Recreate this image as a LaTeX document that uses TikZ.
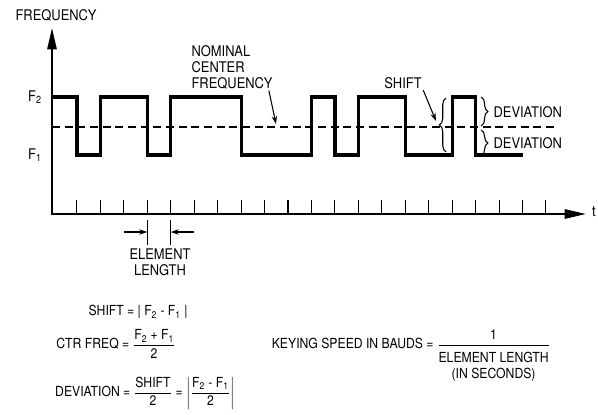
\documentclass[tikz,border=0pt]{standalone}
\usepackage{amsmath}
\usepackage{fontspec}
\setmainfont{TeX Gyre Heros}[FakeStretch=0.88]
\usetikzlibrary{arrows.meta,decorations.pathreplacing}

\begin{document}
\begin{tikzpicture}[x=0.75pt,y=-0.75pt,
  axis/.style={line width=1.4pt},
  signal/.style={line width=2.4pt,line join=miter},
  midline/.style={line width=1.6pt,dash pattern=on 6pt off 3.5pt},
  tick/.style={line width=0.8pt},
  pointer/.style={line width=0.8pt,-{Stealth[length=6pt,width=4pt]}},
  brace/.style={line width=0.8pt,decorate,decoration={brace,amplitude=5pt}},
  formula/.style={font=\fontsize{10.4}{11.5}\selectfont},
  every node/.style={inner sep=1pt,font=\fontsize{11}{12}\selectfont}]

\useasboundingbox (0,0) rectangle (598,414);

% Axes
\draw[axis,{Triangle[length=16pt,width=7pt]}-{Triangle[length=16pt,width=7pt]}]
  (52,28) -- (52,214) -- (586,214);

\node[anchor=west] (freq) at (14,15)
{FREQUENCY};

\node (t) at (594,212)
{t};

\node (f2) at (35,97)
{F\textsubscript{2}};

\node (f1) at (35,155)
{F\textsubscript{1}};

\begin{scope}[xshift=53.5*0.75pt,x=23.45*0.75pt]

% Ticks
\foreach \i in {1,...,21}
{
\draw[tick] (\i,214) -- (\i,200);
}

% Center line
\draw[midline] (-0.06,127) -- (21.43,127);

% Signal
\draw[signal] (-0.06,97) -- (1,97) -- (1,155) -- (2,155) -- (2,97)
  -- (4,97) -- (4,155) -- (5,155) -- (5,97) -- (8,97) -- (8,155)
  -- (11,155) -- (11,97) -- (12,97) -- (12,155) -- (13,155) -- (13,97)
  -- (15,97) -- (15,155) -- (17,155) -- (17,97) -- (18,97) -- (18,155)
  -- (20,155);

% Braces
\draw[brace] (16.74,152) -- (16.74,98);
\draw[brace] (18.24,97) -- (18.24,126);
\draw[brace] (18.24,130) -- (18.24,156);

% Element length
\draw[tick] (4,220) -- (4,245);
\draw[tick] (5,220) -- (5,245);

\coordinate (elemleft) at (4,232);
\coordinate (elemright) at (5,232);

\draw[pointer] (3,232) -- (elemleft);
\draw[pointer] (6,232) -- (elemright);

\end{scope}

\node[align=center] (elem) at (160,262)
{ELEMENT\\LENGTH};

% Labels
\node[anchor=west,align=left] (nominal) at (190,67)
{NOMINAL\\CENTER\\FREQUENCY};

\coordinate (ctrtip) at (276,124);
\draw[pointer] ([xshift=-4pt]nominal.south east) -- (ctrtip);

\node (shiftlbl) at (403,83)
{SHIFT};

\coordinate (shifttip) at (436,121);
\draw[pointer] (shiftlbl.south east) -- (shifttip);

\node[anchor=west] (devup) at (492,112)
{DEVIATION};

\node[anchor=west] (devdown) at (492,143)
{DEVIATION};

% Formulas
\node[formula] (shift) at (138,312)
{SHIFT = | F\textsubscript{2} - F\textsubscript{1} |};

\node[formula] (ctr) at (116,344)
{CTR FREQ = $\dfrac{\mbox{F\textsubscript{2} + F\textsubscript{1}}}{\mbox{2}}$};

\node[formula] (dev) at (145,393)
{DEVIATION = $\dfrac{\mbox{SHIFT}}{\mbox{2}}$ = $\left|\dfrac{\mbox{F\textsubscript{2} - F\textsubscript{1}}}{\mbox{2}}\right|$};

\node[formula] (baud) at (411,356)
{KEYING SPEED IN BAUDS = $\dfrac{\mbox{1}}{\mbox{\begin{tabular}{@{}c@{}}\rule{0pt}{12pt}ELEMENT LENGTH\\(IN SECONDS)\end{tabular}}}$};

\end{tikzpicture}
\end{document}
